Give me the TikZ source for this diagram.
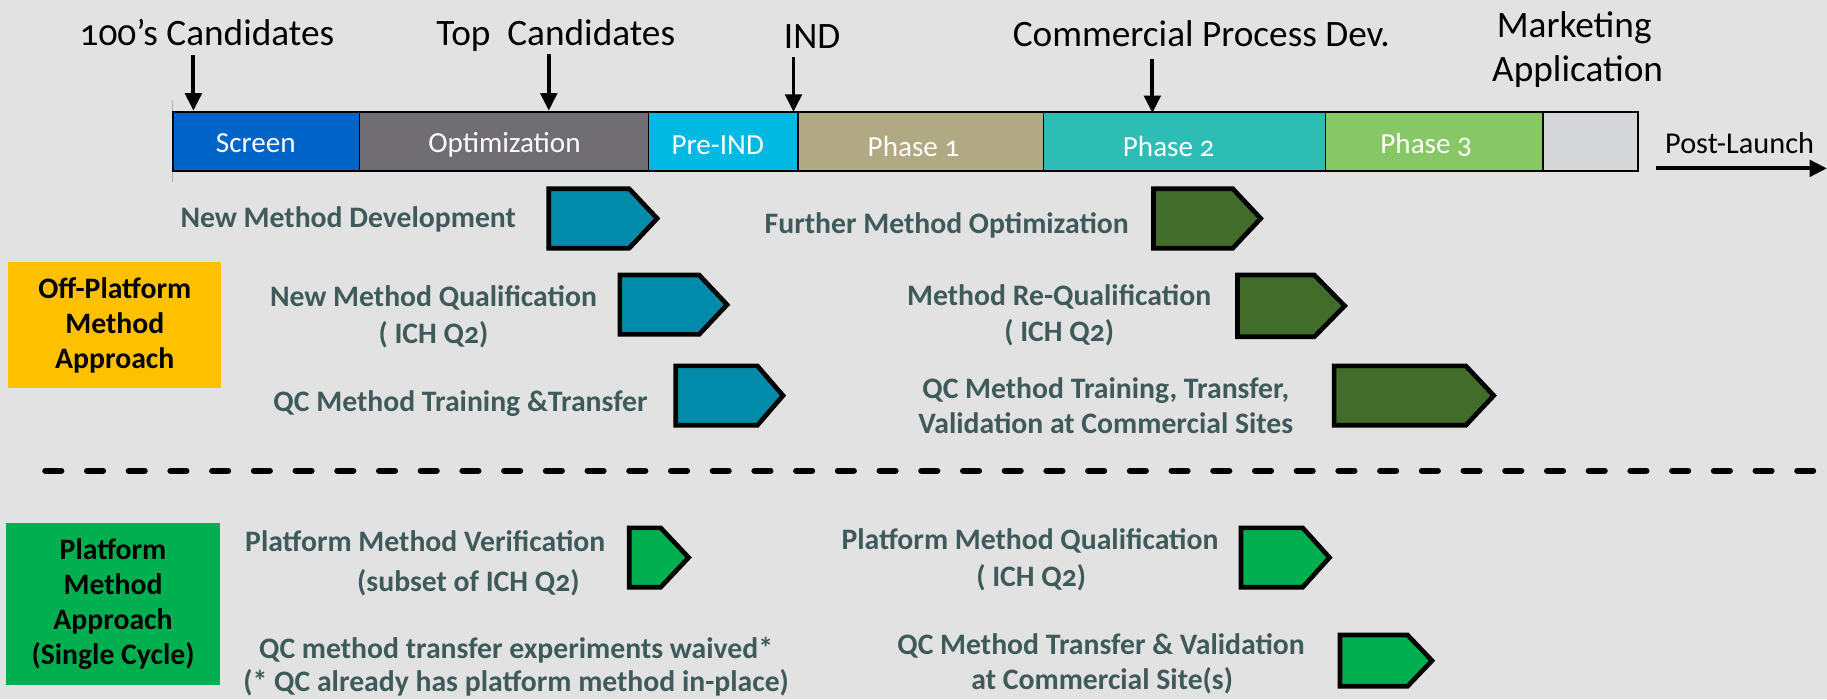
\documentclass[tikz,border=0pt]{standalone}
\usepackage{fontspec}
\setmainfont{Carlito}[Numbers=OldStyle]
\usetikzlibrary{arrows.meta}

\definecolor{bg}{HTML}{E2E2E2}
\definecolor{cScreen}{HTML}{0064C8}
\definecolor{cOptim}{HTML}{716E73}
\definecolor{cPreIND}{HTML}{00B9E3}
\definecolor{cPhaseA}{HTML}{B1A984}
\definecolor{cPhaseB}{HTML}{2EBDB5}
\definecolor{cPhaseC}{HTML}{88C766}
\definecolor{cPost}{HTML}{D6D7D9}
\definecolor{offYellow}{HTML}{FFC000}
\definecolor{platGreen}{HTML}{00B050}
\definecolor{devBlue}{HTML}{008BAA}
\definecolor{devGreen}{HTML}{416C2A}
\definecolor{labelGray}{HTML}{3F5A5A}

% five-sided activity marker: fill, left x, shoulder x, tip x, top y, bottom y (outer edges)
\newcommand\activity[6]{%
  \draw[actline, fill=#1] ({#2+2},{#5+2}) -- ({#3-1},{#5+2}) -- ({#4-3},{(#5+#6)/2})
    -- ({#3-1},{#6-2}) -- ({#2+2},{#6-2}) -- cycle;}

\begin{document}
\begin{tikzpicture}[x=1pt, y=-1pt,
  toplab/.style={font=\fontsize{32}{38}\selectfont, inner sep=0, anchor=base},
  barlab/.style={font=\fontsize{25}{30}\selectfont, text=white, inner sep=0, anchor=base},
  seg/.style={draw=black, line width=1.3, minimum height=50.5, inner sep=0, outer sep=0},
  lab/.style={font=\fontsize{25.5}{31}\selectfont\bfseries, text=labelGray, inner sep=0, anchor=base},
  approach/.style={font=\fontsize{25.5}{30}\selectfont\bfseries, text=black, align=center, inner sep=0},
  milestone/.style={line width=3.4, -{Triangle[length=15pt,width=14pt]}},
  actline/.style={line width=4, draw=black, line join=miter},
  divider/.style={line width=5.5, line cap=round, dash pattern=on 13.5pt off 22.3pt}
]
\useasboundingbox (0,0) rectangle (1568,600);
\fill[bg] (0,0) rectangle (1568,600);

% milestone labels
\node[toplab] (cand100) at (177.6,39) {100’s Candidates};
\node[toplab] (topcand) at (477,39) {Top\ \ Candidates};
\node[toplab] (ind) at (697,41.5) {IND};
\node[toplab] (cpd) at (1031,40) {Commercial Process Dev.};
\node[toplab] (mkt1) at (1351,32.5) {Marketing};
\node[toplab] (mkt2) at (1354,70) {Application};

% thin start marker of the timeline
\draw[gray!60, line width=1] (148,86) -- (148,156);

% development stages
\node[seg, fill=cScreen, minimum width=160.2] (screen) at (228.6,121.5) {};
\node[seg, fill=cOptim,  minimum width=247.8] (optim)  at (432.6,121.5) {};
\node[seg, fill=cPreIND, minimum width=128.5] (preind) at (620.75,121.5) {};
\node[seg, fill=cPhaseA, minimum width=210.7] (ph1)    at (790.35,121.5) {};
\node[seg, fill=cPhaseB, minimum width=242]   (ph2)    at (1016.7,121.5) {};
\node[seg, fill=cPhaseC, minimum width=186.7] (ph3)    at (1231.05,121.5) {};
\node[seg, fill=cPost,   minimum width=81.2]  (postbox) at (1365,121.5) {};

\node[barlab] (screenT) at (219.6,131) {Screen};
\node[barlab] (optimT)  at (433,131) {Optimization};
\node[barlab] (preindT) at (616,133) {Pre-IND};
\node[barlab] (ph1T)    at (784,134.5) {Phase 1};
\node[barlab] (ph2T)    at (1003,134) {Phase 2};
\node[barlab] (ph3T)    at (1224,131.6) {Phase 3};

% milestone arrows
\coordinate (a1s) at (166,47);  \coordinate (a1e) at (166,95);
\coordinate (a2s) at (471,46);  \coordinate (a2e) at (471,95);
\coordinate (a3s) at (681,49);  \coordinate (a3e) at (681,96);
\coordinate (a4s) at (989,51);  \coordinate (a4e) at (989,97);
\draw[milestone] (a1s) -- (a1e);
\draw[milestone] (a2s) -- (a2e);
\draw[milestone] (a3s) -- (a3e);
\draw[milestone] (a4s) -- (a4e);

% post-launch
\node[font=\fontsize{26}{30}\selectfont, inner sep=0, anchor=base] (post) at (1493,131.6) {Post-Launch};
\coordinate (pl1) at (1421,144.5);
\coordinate (pl2) at (1568,144.5);
\draw[milestone] (pl1) -- (pl2);

% approach boxes
\node[approach, fill=offYellow, minimum width=183, minimum height=108] (offp) at (98.5,279)
  {Off-Platform\\Method\\Approach};
\node[approach, fill=platGreen, minimum width=184, minimum height=139] (plat) at (97,518.5)
  {Platform\\Method\\Approach\\(Single Cycle)};

% off-platform activities
\node[lab, anchor=base east] (nmd) at (443,195.4) {New Method Development};
\node[lab] (nmq1) at (372,263.2) {New Method Qualification};
\node[lab] (nmq2) at (372,294.6) {( ICH Q2)};
\node[lab, anchor=base east] (qct) at (556,353.3) {QC Method Training \&Transfer};
\node[lab, anchor=base east] (fmo) at (969,200.3) {Further Method Optimization};
\node[lab] (mrq1) at (909,261.8) {Method Re-Qualification};
\node[lab] (mrq2) at (909,293.2) {( ICH Q2)};
\node[lab] (qcv1) at (949,341.9) {QC Method Training, Transfer,};
\node[lab] (qcv2) at (949,371.9) {Validation at Commercial Sites};

\activity{devBlue}{469}{541}{567}{160}{215}
\activity{devBlue}{530}{601}{627}{234}{289}
\activity{devBlue}{578}{651}{675}{312}{367}
\activity{devGreen}{988}{1059}{1085}{160}{215}
\activity{devGreen}{1060}{1129}{1157}{234}{291}
\activity{devGreen}{1143}{1259}{1285}{312}{367}

% separator
\coordinate (dv1) at (39,404);
\coordinate (dv2) at (1556,404);
\draw[divider] (dv1) -- (dv2);

% platform activities
\node[lab] (pmv1) at (365,473.5) {Platform Method Verification};
\node[lab] (pmv2) at (402,507.8) {(subset of ICH Q2)};
\node[lab] (pmq1) at (884,472) {Platform Method Qualification};
\node[lab] (pmq2) at (885,503) {( ICH Q2)};
\node[lab] (qcw1) at (443,565) {QC method transfer experiments waived*};
\node[lab] (qcw2) at (443,593.6) {(* QC already has platform method in-place)};
\node[lab] (qctv1) at (945,562) {QC Method Transfer \& Validation};
\node[lab] (qctv2) at (946,592) {at Commercial Site(s)};

\activity{platGreen}{538}{568}{594}{451}{506}
\activity{platGreen}{1063}{1119}{1144}{451}{506}
\activity{platGreen}{1148}{1209}{1232}{543}{591}
\end{tikzpicture}
\end{document}
